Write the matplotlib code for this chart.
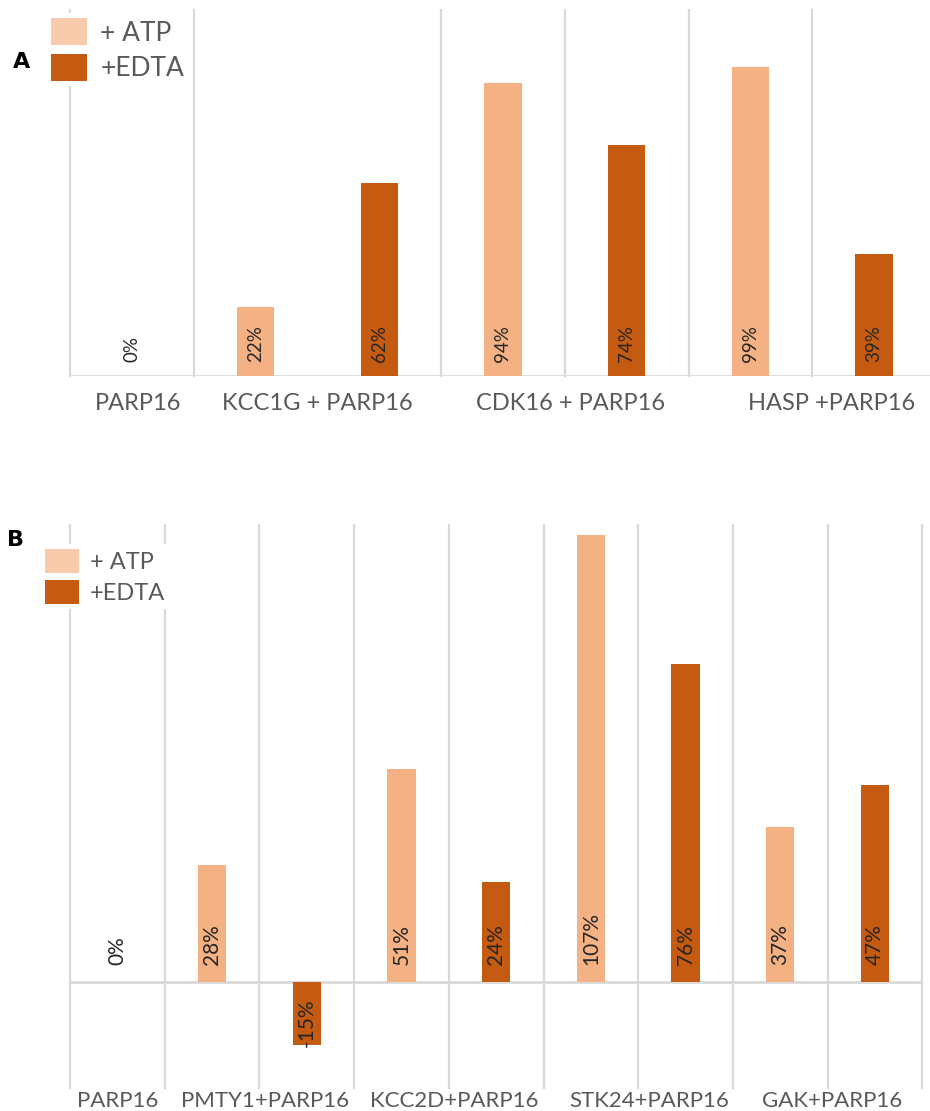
import numpy as np
import matplotlib
matplotlib.use("Agg")
from matplotlib import pyplot as plt
from matplotlib.patches import Patch

# panel A data
a_groups = ["PARP16", "KCC1G + PARP16", "CDK16 + PARP16", "HASP +PARP16"]
a_atp = [0, 22, 94, 99]
a_edta = [None, 62, 74, 39]

# panel B data
b_groups = ["PARP16", "PMTY1+PARP16", "KCC2D+PARP16", "STK24+PARP16", "GAK+PARP16"]
b_atp = [0, 28, 51, 107, 37]
b_edta = [None, -15, 24, 76, 47]

series_names = ["+ ATP", "+EDTA"]

ATP_COLOR = "#F4B183"
ATP_LEGEND = "#F8CBAD"
EDTA_COLOR = "#C55A11"
GRID = "#D9D9D9"
TEXT = "#595959"

plt.rcParams["font.family"] = ["Lato", "DejaVu Sans"]

W, H = 930, 1111
fig = plt.figure(figsize=(W / 100, H / 100), dpi=100)


def px_axes(left, top, right, bottom):
    return fig.add_axes([left / W, 1 - bottom / H, (right - left) / W, (bottom - top) / H])


def draw_panel(ax, groups, atp, edta, ylim, label_shift, tick_fs, val_fs, val_off):
    # one bar per slot; groups without an EDTA value get a single slot
    xs, vals, cols, centers = [], [], [], []
    pos = 0
    for g, va, ve in zip(groups, atp, edta):
        if ve is None:
            xs.append(pos); vals.append(va); cols.append(ATP_COLOR)
            centers.append(pos)
            pos += 1
        else:
            xs += [pos, pos + 1]; vals += [va, ve]; cols += [ATP_COLOR, EDTA_COLOR]
            centers.append(pos + 0.5)
            pos += 2
    n = pos

    ax.bar(xs, vals, width=0.3, color=cols, zorder=2)
    ax.axhline(0, color=GRID, lw=2, zorder=1.5)

    for x, v in zip(xs, vals):
        if v >= 0:
            ax.annotate(f"{v}%", (x, 0), xytext=(0, val_off), textcoords="offset points",
                        rotation=90, ha="center", va="bottom", fontsize=val_fs,
                        color="#262626", zorder=3)
        else:
            ax.annotate(f"{v}%", (x, v), xytext=(0, -1.5), textcoords="offset points",
                        rotation=90, ha="center", va="bottom", fontsize=val_fs,
                        color="#262626", zorder=3)

    ax.set_xlim(-0.5, n - 0.5)
    ax.set_ylim(*ylim)
    ax.set_xticks(np.arange(-0.5, n), minor=True)
    ax.set_xticks(np.array(centers) + np.array(label_shift))
    ax.set_xticklabels(groups, fontsize=tick_fs, color=TEXT)
    ax.set_yticks([])
    ax.tick_params(axis="x", which="both", length=0)
    ax.grid(which="minor", axis="x", color=GRID, lw=1.6)
    ax.set_axisbelow(True)
    for t in ax.xaxis.get_minor_ticks():
        t.gridline.set_clip_on(False)
    for s in ax.spines.values():
        s.set_visible(False)


# Panel A
axA = px_axes(70, 10, 70 + 7 * 123.7, 376)
draw_panel(axA, a_groups, a_atp, a_edta, (0, 117.3), [0.05, 0, 0.05, 0.16],
           tick_fs=17, val_fs=13.5, val_off=10)
axA.tick_params(axis="x", pad=12)

# Panel B
axB = px_axes(70, 525, 70 + 9 * 94.7, 1088)
draw_panel(axB, b_groups, b_atp, b_edta, (-25.4, 109.3), [0, 0.06, 0.06, 0.12, 0.05],
           tick_fs=16, val_fs=15, val_off=12)
axB.tick_params(axis="x", pad=2)

handlesA = [Patch(facecolor=ATP_LEGEND), Patch(facecolor=EDTA_COLOR)]
legA = axA.legend(handlesA, series_names, loc="upper left",
                  bbox_to_anchor=(46 / W, 1 - 13 / H), bbox_transform=fig.transFigure,
                  fontsize=19, frameon=True, facecolor="white", edgecolor="none",
                  framealpha=1, fancybox=False, borderpad=0.2, borderaxespad=0,
                  handlelength=1.36, handleheight=1.2, labelspacing=0.3,
                  handletextpad=0.5, labelcolor=TEXT)

handlesB = [Patch(facecolor=ATP_LEGEND), Patch(facecolor=EDTA_COLOR)]
legB = axB.legend(handlesB, series_names, loc="upper left",
                  bbox_to_anchor=(40 / W, 1 - 544 / H), bbox_transform=fig.transFigure,
                  fontsize=17, frameon=True, facecolor="white", edgecolor="none",
                  framealpha=1, fancybox=False, borderpad=0.2, borderaxespad=0,
                  handlelength=1.44, handleheight=1.2, labelspacing=0.3,
                  handletextpad=0.47, labelcolor=TEXT)

fig.text(22 / W, 1 - 62 / H, "A", fontsize=16, fontweight="bold", ha="center",
         va="center", family="DejaVu Sans")
fig.text(15 / W, 1 - 540 / H, "B", fontsize=16, fontweight="bold", ha="center",
         va="center", family="DejaVu Sans")

fig.savefig("out.png", dpi=100, facecolor="white")
